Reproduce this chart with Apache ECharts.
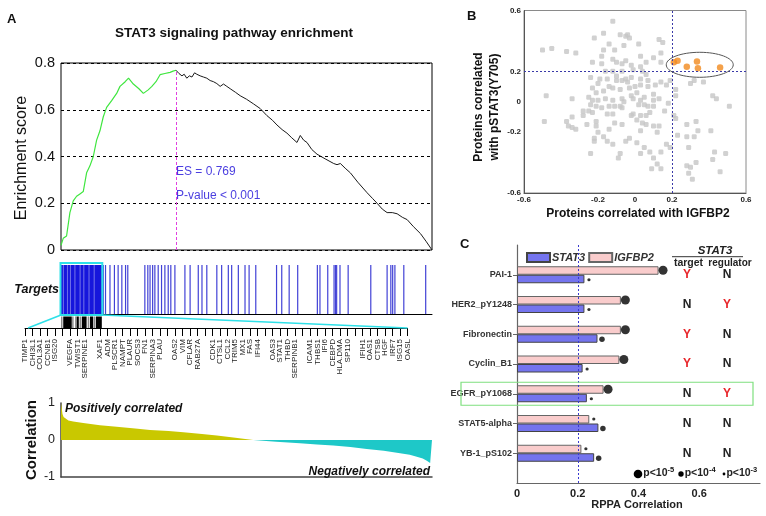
<!DOCTYPE html>
<html><head><meta charset="utf-8">
<script src="https://cdn.jsdelivr.net/npm/echarts/dist/echarts.min.js"></script>
<style>html,body{margin:0;padding:0;background:#fff}#c{width:766px;height:516px}</style>
</head><body><div id="c"></div>
<script>
// ---------- Panel A data ----------
const esGreenRank = [0,6,15,24,33,42,51,60,69,78,87,96,105,114,123,137,150,159,173,182,195,210,222,235,245,256,267,280,294,302,310];
const esGreenVal  = [0.02,0.05,0.06,0.16,0.21,0.23,0.24,0.25,0.33,0.36,0.40,0.47,0.51,0.57,0.61,0.64,0.67,0.70,0.72,0.735,0.71,0.69,0.67,0.685,0.70,0.72,0.75,0.755,0.76,0.765,0.769];
const esBlackRank = [310,318,326,332,339,346,353,360,366,375,384,393,402,411,420,429,438,447,456,470,483,500,519,537,555,570,582,596,609,622,636,645,654,663,676,690,712,735,744,753,766,780,800,825,840,852,866,879,893,906,920,933,950,969,985,1000];
const esBlackVal  = [0.769,0.755,0.745,0.752,0.735,0.745,0.74,0.758,0.752,0.745,0.74,0.735,0.725,0.72,0.712,0.70,0.71,0.70,0.69,0.675,0.66,0.645,0.625,0.605,0.575,0.555,0.535,0.515,0.50,0.48,0.46,0.49,0.47,0.46,0.43,0.41,0.39,0.37,0.365,0.37,0.35,0.33,0.29,0.245,0.22,0.20,0.175,0.16,0.16,0.155,0.14,0.13,0.10,0.07,0.035,0.0];
const esPeakRank = 310, esPeak = 0.769;
const esTicks = [0, 0.2, 0.4, 0.6, 0.8];

const denseSegments = [[0,5],[8,16],[19,24],[27,36],[39,50],[53,60],[63,74],[77,88],[91,110]];
const targetRanks = [114,120,132,144,154,164,174,180,226,234,240,247,253,262,271,280,289,296,307,334,348,370,380,393,420,433,451,460,478,496,507,525,581,595,615,638,691,698,719,736,740,743,752,774,835,879,889,894,900,924,983];
const leadingBlack = [[6,29],[42,48],[56,69],[78,87],[94,110]];
const leadingGrey  = [[0,4],[30,34],[38,40],[50,54],[72,76],[89,92]];

const genes = ['TIMP1','CHI3L1','COL3A1','CCNB1','ISG20','_1','VEGFA','TWIST1','SERPINE1','_2','XAF1','ADM','PLSCR1','NAMPT','PLAUR','SOCS3','FN1','SERPINA3','PLAU','_3','OAS2','VIM','CFLAR','RAB27A','_4','CDK1','CTSL1','CCL2','TRIM5','MX1','FAS','IFI44','_5','OAS3','STAT1','THBD','SERPINB1','_6','ICAM1','THBS1','IFI6','CEBPD','HLA.DMA','SP110','_7','IFIH1','OAS1','CTSB','HGF','IRF7','ISG15','OASL'];

const corrPosRank = [0,2,4,7,12,20,33,60,105,150,200,240,290,330,380,420,470,518];
const corrPosVal  = [1.0,0.85,0.7,0.62,0.57,0.53,0.5,0.46,0.40,0.36,0.31,0.27,0.24,0.21,0.16,0.12,0.06,0.0];
const corrNegRank = [518,580,644,690,734,780,824,870,914,940,959,975,986,995,1000];
const corrNegVal  = [0.0,-0.05,-0.09,-0.12,-0.15,-0.19,-0.24,-0.29,-0.36,-0.40,-0.45,-0.5,-0.56,-0.62,-0.67];
const corrTicks = [-1, 0, 1];

// ---------- Panel B data ----------
const bTicks = [-0.6, -0.2, 0, 0.2, 0.6];
const grayPts = [
[-0.12,0.53],[-0.17,0.45],[-0.22,0.42],[-0.08,0.44],[-0.05,0.43],[-0.04,0.44],[-0.03,0.42],[0.02,0.38],[0.13,0.41],[0.15,0.39],
[-0.50,0.34],[-0.45,0.35],[-0.37,0.33],[-0.32,0.32],[-0.14,0.38],[-0.11,0.34],[-0.18,0.30],[-0.12,0.28],[-0.10,0.26],[-0.07,0.25],
[-0.05,0.27],[-0.18,0.25],[-0.02,0.24],[0.03,0.23],[0.06,0.26],[0.14,0.32],[0.14,0.26],[0.04,0.20],[-0.01,0.21],[-0.07,0.20],
[-0.12,0.20],[-0.16,0.20],[-0.24,0.16],[-0.19,0.15],[-0.15,0.15],[-0.10,0.14],[-0.07,0.14],[-0.05,0.15],[-0.04,0.13],[0.03,0.15],
[0.06,0.18],[0.07,0.14],[-0.14,0.10],[-0.12,0.09],[-0.20,0.12],[-0.08,0.08],[-0.03,0.09],[0.03,0.11],[0.07,0.10],[0.11,0.11],
[0.14,0.13],[0.17,0.11],[0.19,0.14],[0.32,0.14],[0.37,0.13],[0.30,0.12],[0.42,0.04],[0.44,0.02],[0.51,-0.03],[0.22,0.08],
[0.22,0.04],[-0.48,0.04],[-0.34,0.02],[-0.25,0.03],[-0.21,0.06],[-0.17,0.07],[-0.23,0.01],[-0.20,0.01],[-0.16,0.02],[-0.12,0.01],
[-0.07,0.02],[-0.06,0.00],[-0.02,0.04],[-0.01,0.02],[0.03,0.01],[0.05,0.03],[0.10,0.05],[0.10,0.01],[0.13,0.02],[0.18,-0.01],
[-0.24,-0.02],[-0.21,-0.03],[-0.18,-0.04],[-0.14,-0.03],[-0.11,-0.03],[-0.07,-0.04],[0.02,-0.02],[0.05,-0.02],[0.07,-0.03],[0.10,-0.03],
[-0.25,-0.06],[-0.23,-0.07],[-0.15,-0.08],[-0.12,-0.08],[-0.01,-0.08],[0.03,-0.09],[0.08,-0.07],[-0.28,-0.09],[-0.34,-0.10],[-0.49,-0.13],
[-0.37,-0.13],[-0.36,-0.16],[-0.34,-0.17],[-0.32,-0.18],[-0.26,-0.15],[-0.21,-0.13],[-0.21,-0.16],[-0.20,-0.20],[-0.14,-0.18],[-0.11,-0.14],
[-0.07,-0.15],[-0.02,-0.09],[0.01,-0.12],[0.04,-0.14],[0.06,-0.15],[0.10,-0.16],[0.13,-0.16],[0.21,-0.09],[0.22,-0.11],[0.28,-0.15],
[0.33,-0.13],[0.34,-0.19],[0.41,-0.19],[0.32,-0.23],[0.28,-0.23],[0.29,-0.30],[0.43,-0.33],[0.49,-0.34],[0.42,-0.38],[0.46,-0.46],
[0.33,-0.40],[0.28,-0.42],[0.30,-0.43],[0.29,-0.47],[0.31,-0.51],[0.17,-0.28],[0.19,-0.30],[0.14,-0.33],[0.08,-0.33],[0.03,-0.34],
[0.10,-0.37],[0.12,-0.41],[0.09,-0.44],[0.14,-0.44],[0.05,-0.30],[0.01,-0.27],[-0.03,-0.24],[-0.05,-0.26],[-0.12,-0.28],[-0.15,-0.26],
[-0.17,-0.23],[-0.22,-0.24],[-0.22,-0.26],[-0.24,-0.34],[-0.08,-0.34],[-0.09,-0.37],[0.03,-0.19],[0.12,-0.20],[0.16,-0.06],[0.23,-0.22],
[-0.08,-0.03],[0.06,-0.09],[-0.28,-0.06],[-0.02,0.16],[0.00,0.10],[-0.10,0.17],[-0.23,0.09],[0.01,0.06],[-0.17,0.34],[-0.06,0.37],
[0.03,0.30],[0.10,0.29],[-0.23,0.26]
];
const orangePts = [[0.21,0.26],[0.23,0.27],[0.28,0.23],[0.335,0.265],[0.34,0.22],[0.46,0.225]];
const ellipseCenter = [0.35, 0.243];
const bThreshold = 0.2;

// ---------- Panel C data ----------
const proteins = ['PAI-1','HER2_pY1248','Fibronectin','Cyclin_B1','EGFR_pY1068','STAT5-alpha','YB-1_pS102'];
const igfbp2Corr = [0.466,0.342,0.342,0.337,0.285,0.238,0.212];
const stat3Corr  = [0.222,0.222,0.265,0.216,0.23,0.268,0.254];
const igfbp2P = [5,5,5,5,5,3,3];   // p < 10^-k
const stat3P  = [3,3,4,3,3,4,4];
const isTarget    = ['Y','N','Y','Y','N','N','N'];
const isRegulator = ['N','Y','N','N','Y','N','N'];
const cTicks = [0, 0.2, 0.4, 0.6];
const cThreshold = 0.2;
const highlighted = 'EGFR_pY1068';

// ---------- build ----------
const F = 'Arial, "Liberation Sans", Helvetica, sans-serif';
const zip = (a, b) => a.map((v, i) => [v, b[i]]);
const cCats = ['_top'].concat(proteins, ['_bot']);
const pSize = {5: 9, 4: 5.5, 3: 3.2};

function segRender(params, api) {
  const s = api.value(0), e = api.value(1);
  const p0 = api.coord([s, 1]), p1 = api.coord([e, 0]);
  const w = Math.max(p1[0] - p0[0], 1.2);
  return {type: 'rect', shape: {x: p0[0] - (e === s ? 0.6 : 0), y: p0[1], width: w, height: p1[1] - p0[1]},
          style: {fill: api.visual('color')}};
}
function segData(list, color) { return list.map(s => ({value: [s[0], s[1]], itemStyle: {color: color}})); }

const hidden = {show: false};
const option = {
  animation: false,
  textStyle: {fontFamily: F},
  grid: [
    {left: 61, top: 63, width: 371, height: 187, show: true, borderColor: '#000', borderWidth: 1},
    {left: 61, top: 265, width: 371, height: 49},
    {left: 61, top: 316.5, width: 371, height: 11.5},
    {left: 25, top: 327, width: 382.5, height: 1},
    {left: 61, top: 403, width: 371, height: 74},
    {left: 524, top: 10.5, width: 222, height: 182.5, show: true, borderColor: '#8a8a8a', borderWidth: 1},
    {left: 517, top: 245, width: 243, height: 238}
  ],
  xAxis: [
    {gridIndex: 0, type: 'value', min: 0, max: 1000, show: false},
    {gridIndex: 1, type: 'value', min: 0, max: 1000, axisLine: {show: true, onZero: false, lineStyle: {color: '#000', width: 1}}, axisTick: hidden, axisLabel: hidden, splitLine: hidden},
    {gridIndex: 2, type: 'value', min: 0, max: 1000, show: false},
    {gridIndex: 3, type: 'category', data: genes, boundaryGap: false,
     axisLine: {show: true, lineStyle: {color: '#000', width: 1}},
     axisTick: {show: true, interval: 0, length: 8, lineStyle: {color: '#000'}},
     axisLabel: {interval: 0, rotate: 90, fontSize: 8, color: '#222', margin: 11, fontFamily: F,
                 formatter: v => v.charAt(0) === '_' ? '' : v}},
    {gridIndex: 4, type: 'value', min: 0, max: 1000, axisLine: {show: true, onZero: false, lineStyle: {color: '#444', width: 1.5}}, axisTick: hidden, axisLabel: hidden, splitLine: hidden},
    {gridIndex: 5, type: 'value', min: -0.6, max: 0.6, interval: 0.2,
     axisLine: {show: true, onZero: false, lineStyle: {color: '#555'}}, axisTick: hidden, splitLine: hidden,
     axisLabel: {fontSize: 8, fontWeight: 'bold', color: '#222', margin: 3,
                 formatter: v => { const r = Math.round(v * 10) / 10; return bTicks.some(t => Math.abs(t - r) < 1e-6) ? String(r) : ''; }}},
    {gridIndex: 6, type: 'value', min: 0, max: 0.8, interval: 0.2,
     axisLine: {show: true, onZero: false, lineStyle: {color: '#666', width: 1.2}}, axisTick: hidden, splitLine: hidden,
     axisLabel: {fontSize: 11, fontWeight: 'bold', color: '#222', margin: 5,
                 formatter: v => { const r = Math.round(v * 10) / 10; return cTicks.some(t => Math.abs(t - r) < 1e-6) ? String(r) : ''; }}}
  ],
  yAxis: [
    {gridIndex: 0, type: 'value', min: 0, max: 0.8, interval: 0.2, axisLine: hidden, axisTick: hidden,
     axisLabel: {fontSize: 14.5, color: '#111', margin: 6, formatter: v => { const r = Math.round(v * 10) / 10; return esTicks.includes(r) ? String(r) : ''; }},
     splitLine: {show: true, lineStyle: {color: '#000', type: [3, 3], width: 1}}},
    {gridIndex: 1, type: 'value', min: 0, max: 1, show: false},
    {gridIndex: 2, type: 'value', min: 0, max: 1, show: false},
    {gridIndex: 3, type: 'value', min: 0, max: 1, show: false},
    {gridIndex: 4, type: 'value', min: -1, max: 1, interval: 1,
     axisLine: {show: true, onZero: false, lineStyle: {color: '#444', width: 1.5}}, axisTick: hidden, splitLine: hidden,
     axisLabel: {fontSize: 12.5, color: '#222', margin: 6, formatter: v => corrTicks.includes(Math.round(v)) ? String(Math.round(v)) : ''}},
    {gridIndex: 5, type: 'value', min: -0.6, max: 0.6, interval: 0.2,
     axisLine: {show: true, onZero: false, lineStyle: {color: '#555'}}, axisTick: hidden, splitLine: hidden,
     axisLabel: {fontSize: 8, fontWeight: 'bold', color: '#222', margin: 3,
                 formatter: v => { const r = Math.round(v * 10) / 10; return bTicks.some(t => Math.abs(t - r) < 1e-6) ? String(r) : ''; }}},
    {gridIndex: 6, type: 'category', data: cCats, inverse: true, boundaryGap: false,
     axisLine: {show: true, lineStyle: {color: '#666', width: 1.2}},
     axisTick: {show: true, length: 4, interval: i => i > 0 && i < cCats.length - 1, lineStyle: {color: '#666'}},
     axisLabel: {interval: 0, fontSize: 9, fontWeight: 'bold', color: '#333', margin: 5, formatter: v => v.charAt(0) === '_' ? '' : v}}
  ],
  legend: {left: 526, top: 252, padding: 0, itemWidth: 23, itemHeight: 9, itemGap: 3, icon: 'rect',
           data: ['STAT3', 'IGFBP2'],
           textStyle: {fontSize: 11, fontWeight: 'bold', fontStyle: 'italic', color: '#333', padding: [0, 0, 0, -3]}},
  series: [
    {type: 'line', xAxisIndex: 0, yAxisIndex: 0, data: zip(esGreenRank, esGreenVal), showSymbol: false, symbol: 'none',
     lineStyle: {color: '#3fe63f', width: 1.2}, z: 3,
     markLine: {silent: true, symbol: 'none', label: {show: false}, lineStyle: {color: '#e040e0', type: [3, 2], width: 1},
                data: [[{coord: [esPeakRank, 0]}, {coord: [esPeakRank, esPeak]}]]}},
    {type: 'line', xAxisIndex: 0, yAxisIndex: 0, data: zip(esBlackRank, esBlackVal), showSymbol: false, symbol: 'none',
     lineStyle: {color: '#1a1a1a', width: 1}, z: 3},
    {type: 'custom', xAxisIndex: 1, yAxisIndex: 1, renderItem: segRender, encode: {x: [0, 1]},
     data: segData([[0, 110]], '#6c6ce8')},
    {type: 'custom', xAxisIndex: 1, yAxisIndex: 1, renderItem: segRender, encode: {x: [0, 1]},
     data: segData(denseSegments, '#1616dc')},
    {type: 'custom', xAxisIndex: 1, yAxisIndex: 1, renderItem: segRender, encode: {x: [0, 1]},
     data: segData(targetRanks.map(r => [r, r]), '#4242d6')},
    {type: 'custom', xAxisIndex: 2, yAxisIndex: 2, renderItem: segRender, encode: {x: [0, 1]},
     data: segData(leadingGrey, '#8a8a8a').concat(segData(leadingBlack, '#000'))},
    {type: 'line', xAxisIndex: 3, yAxisIndex: 3, data: []},
    {type: 'line', xAxisIndex: 4, yAxisIndex: 4, data: zip(corrPosRank, corrPosVal), showSymbol: false, symbol: 'none',
     lineStyle: {width: 0}, areaStyle: {color: '#c9c800', opacity: 1, origin: 0}},
    {type: 'line', xAxisIndex: 4, yAxisIndex: 4, data: zip(corrNegRank, corrNegVal), showSymbol: false, symbol: 'none',
     lineStyle: {width: 0}, areaStyle: {color: '#1ec8c8', opacity: 1, origin: 0}},
    {type: 'scatter', xAxisIndex: 5, yAxisIndex: 5, data: grayPts, symbol: 'roundRect', symbolSize: 5,
     itemStyle: {color: '#c6c6c6'},
     markLine: {silent: true, symbol: 'none', label: {show: false}, lineStyle: {color: '#3a3aa8', type: [2, 2], width: 1},
                data: [{xAxis: bThreshold}, {yAxis: bThreshold}]}},
    {type: 'scatter', xAxisIndex: 5, yAxisIndex: 5, data: orangePts, symbol: 'circle', symbolSize: 6.5,
     itemStyle: {color: '#f18a1e'}, z: 4},
    {name: 'IGFBP2', type: 'bar', xAxisIndex: 6, yAxisIndex: 6, barWidth: 8.5, barGap: '0%',
     data: [null].concat(igfbp2Corr, [null]), itemStyle: {color: '#f9cccc', borderColor: '#666', borderWidth: 1},
     markLine: {silent: true, symbol: 'none', label: {show: false}, lineStyle: {color: '#3a3ad0', type: [2, 2], width: 1},
                data: [{xAxis: cThreshold}]}},
    {name: 'STAT3', type: 'bar', xAxisIndex: 6, yAxisIndex: 6, barWidth: 8.5, barGap: '0%',
     data: [null].concat(stat3Corr, [null]), itemStyle: {color: '#7474ee', borderColor: '#444', borderWidth: 1}},
    {type: 'scatter', xAxisIndex: 6, yAxisIndex: 6, symbolOffset: [4.5, -4.5], itemStyle: {color: '#000'}, z: 5,
     data: proteins.map((p, i) => ({value: [igfbp2Corr[i], p], symbolSize: pSize[igfbp2P[i]]}))},
    {type: 'scatter', xAxisIndex: 6, yAxisIndex: 6, symbolOffset: [4.5, 5], itemStyle: {color: '#000'}, z: 5,
     data: proteins.map((p, i) => ({value: [stat3Corr[i], p], symbolSize: pSize[stat3P[i]]}))}
  ]
};

const chart = echarts.init(document.getElementById('c'));
chart.setOption(option);

// ---------- annotations ----------
function txt(x, y, text, o) {
  o = o || {};
  return {type: 'text', x: x, y: y, rotation: o.rot || 0, z: 100,
          style: {text: text, fontFamily: F, fontSize: o.size || 12, fontWeight: o.weight || 'normal',
                  fontStyle: o.style || 'normal', fill: o.color || '#111',
                  align: o.align || 'left', verticalAlign: o.va || 'middle', rich: o.rich}};
}
const g = [];
g.push(txt(7, 19, 'A', {size: 13, weight: 'bold'}));
g.push(txt(467, 16, 'B', {size: 13, weight: 'bold'}));
g.push(txt(460, 244, 'C', {size: 13, weight: 'bold'}));
g.push(txt(234, 33, 'STAT3 signaling pathway enrichment', {size: 13.5, weight: 'bold', align: 'center'}));
g.push(txt(22, 158, 'Enrichment score', {size: 16, align: 'center', rot: Math.PI / 2}));
g.push(txt(176, 172, 'ES = 0.769', {size: 12, color: '#4b3fe0'}));
g.push(txt(176, 196, 'P-value < 0.001', {size: 12, color: '#4b3fe0'}));
g.push(txt(59, 290, 'Targets', {size: 12.5, weight: 'bold', style: 'italic', align: 'right'}));
g.push(txt(32, 440, 'Correlation', {size: 15, weight: 'bold', align: 'center', rot: Math.PI / 2}));
g.push(txt(65, 409, 'Positively correlated', {size: 12, weight: 'bold', style: 'italic'}));
g.push(txt(430, 472, 'Negatively correlated', {size: 12, weight: 'bold', style: 'italic', align: 'right'}));
g.push(txt(638, 214, 'Proteins correlated with IGFBP2', {size: 12, weight: 'bold', align: 'center'}));
g.push(txt(479, 107, 'Proteins correlated', {size: 12, weight: 'bold', align: 'center', rot: Math.PI / 2}));
g.push(txt(495, 107, 'with pSTAT3(Y705)', {size: 12, weight: 'bold', align: 'center', rot: Math.PI / 2}));
g.push(txt(715, 251, 'STAT3', {size: 11.5, weight: 'bold', style: 'italic', align: 'center', color: '#222'}));
g.push({type: 'line', z: 100, shape: {x1: 672, y1: 256.7, x2: 743, y2: 256.7}, style: {stroke: '#333', lineWidth: 1}});
g.push(txt(688.5, 263, 'target', {size: 10.5, weight: 'bold', align: 'center', color: '#222'}));
g.push(txt(730, 263, 'regulator', {size: 10, weight: 'bold', align: 'center', color: '#222'}));
g.push(txt(637, 505, 'RPPA Correlation', {size: 11, weight: 'bold', align: 'center', color: '#222'}));
const pRich = {a: {fontSize: 10.5, fontWeight: 'bold', fontFamily: F, fill: '#222', color: '#222'},
               b: {fontSize: 7.5, fontWeight: 'bold', fontFamily: F, color: '#222', padding: [0, 0, 7, 0]}};
[[638, 4.3, '5'], [681, 2.7, '4'], [724, 1.4, '3']].forEach(d => {
  g.push({type: 'circle', z: 100, shape: {cx: d[0], cy: 474, r: d[1]}, style: {fill: '#000'}});
  g.push(txt(d[0] + d[1] + 1, 473, '{a|p<10}{b|-' + d[2] + '}', {rich: pRich}));
});

// data-anchored decorations
const c0 = chart.convertToPixel({xAxisIndex: 1, yAxisIndex: 1}, [0, 1]);
const c1 = chart.convertToPixel({xAxisIndex: 1, yAxisIndex: 1}, [110, 0]);
g.push({type: 'rect', z: 101, shape: {x: c0[0] - 0.5, y: c0[1] - 2, width: c1[0] - c0[0] + 1, height: c1[1] - c0[1] + 3},
        style: {fill: 'none', stroke: '#2ee0e8', lineWidth: 2}});
const gl = chart.convertToPixel({xAxisIndex: 3, yAxisIndex: 3}, [genes[0], 0]);
const gr = chart.convertToPixel({xAxisIndex: 3, yAxisIndex: 3}, [genes[genes.length - 1], 0]);
g.push({type: 'line', z: 101, shape: {x1: c0[0], y1: c1[1] + 1, x2: gl[0] + 3, y2: gl[1]}, style: {stroke: '#2ee0e8', lineWidth: 1.5}});
g.push({type: 'line', z: 101, shape: {x1: c1[0], y1: c1[1] + 1, x2: gr[0], y2: gr[1]}, style: {stroke: '#2ee0e8', lineWidth: 1.5}});

const ec = chart.convertToPixel({xAxisIndex: 5, yAxisIndex: 5}, ellipseCenter);
g.push({type: 'ellipse', z: 101, shape: {cx: ec[0], cy: ec[1], rx: 33.5, ry: 12.5}, style: {fill: 'none', stroke: '#555', lineWidth: 1}});

proteins.forEach((p, i) => {
  const y = chart.convertToPixel({yAxisIndex: 6}, p);
  g.push(txt(687, y, isTarget[i], {size: 12, weight: 'bold', align: 'center', color: isTarget[i] === 'Y' ? '#e8262b' : '#222'}));
  g.push(txt(727, y, isRegulator[i], {size: 12, weight: 'bold', align: 'center', color: isRegulator[i] === 'Y' ? '#e8262b' : '#222'}));
});
const hy = chart.convertToPixel({yAxisIndex: 6}, highlighted);
g.push({type: 'rect', z: 101, shape: {x: 461, y: hy - 11.5, width: 292, height: 23}, style: {fill: 'none', stroke: '#7fe07f', lineWidth: 1.2}});

chart.setOption({graphic: g});
</script>
</body></html>
